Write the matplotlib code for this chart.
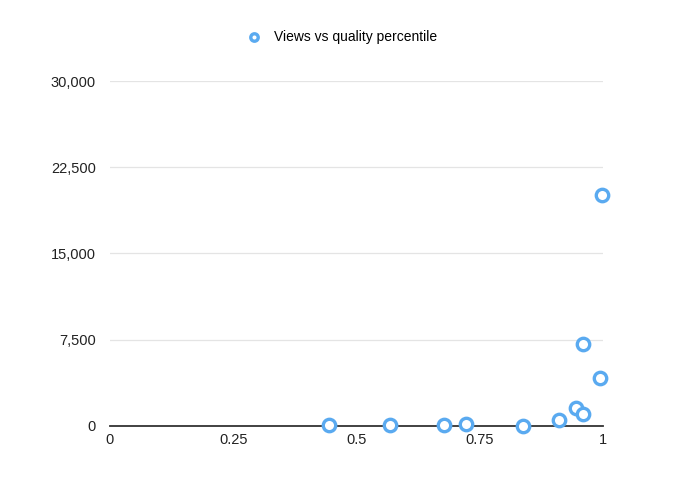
import matplotlib
matplotlib.use("Agg")
import matplotlib.pyplot as plt
from matplotlib.ticker import FuncFormatter

plt.rcParams["font.family"] = ["Liberation Sans", "DejaVu Sans"]

# ---- data -------------------------------------------------------------------
quality_pct = [0.444, 0.568, 0.677, 0.722, 0.838, 0.911, 0.945, 0.959, 0.959, 0.994, 0.998]
views = [40, 60, 30, 150, 0, 550, 1550, 1050, 7100, 4150, 20100]

x_ticks = [0, 0.25, 0.5, 0.75, 1]
x_labels = ["0", "0.25", "0.5", "0.75", "1"]
y_ticks = [0, 7500, 15000, 22500, 30000]

BLUE = "#5aaaf0"

fig = plt.figure(figsize=(6.95, 4.94), dpi=100)
ax = fig.add_axes([0.158, 0.138, 0.710, 0.698])

ax.scatter(quality_pct, views, s=80, facecolor="white", edgecolor=BLUE,
           linewidth=2.4, zorder=5, clip_on=False, label="Views vs quality percentile")

ax.set_xlim(0, 1)
ax.set_ylim(0, 30000)
ax.set_xticks(x_ticks)
ax.set_xticklabels(x_labels)
ax.set_yticks(y_ticks)
ax.yaxis.set_major_formatter(FuncFormatter(lambda v, _: f"{v:,.0f}"))

ax.grid(axis="y", color="#e4e4e4", lw=0.9)
ax.set_axisbelow(True)
for s in ["top", "right", "left"]:
    ax.spines[s].set_visible(False)
ax.spines["bottom"].set_color("#333333")
ax.spines["bottom"].set_linewidth(1.3)
ax.spines["bottom"].set_zorder(3)
ax.tick_params(length=0, labelsize=10.5, colors="#222222")
ax.tick_params(axis="y", pad=10)
ax.tick_params(axis="x", pad=5)

fig.legend(loc="center", bbox_to_anchor=(0.487, 0.925), frameon=False,
           fontsize=10, handletextpad=0.4, markerscale=0.6)

fig.savefig("out.png", dpi=100)
